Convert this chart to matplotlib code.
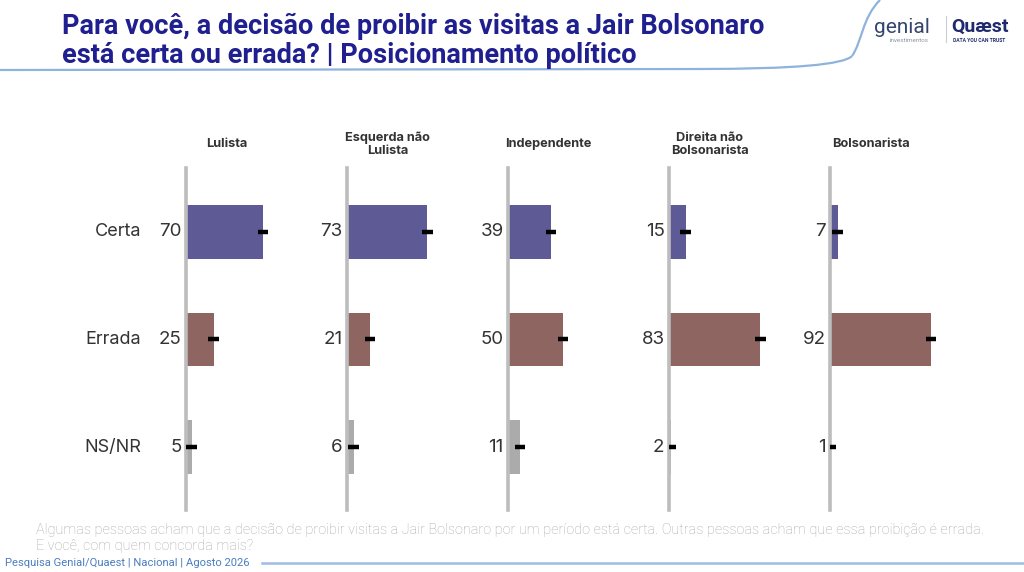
import matplotlib
matplotlib.use('Agg')
import matplotlib.pyplot as plt
from matplotlib.path import Path
from matplotlib.patches import PathPatch

# data
categories = ['Certa', 'Errada', 'NS/NR']
groups = ['Lulista', 'Esquerda não\nLulista', 'Independente', 'Direita não\nBolsonarista', 'Bolsonarista']
certa = [70, 73, 39, 15, 7]
errada = [25, 21, 50, 83, 92]
nsnr = [5, 6, 11, 2, 1]
margem = 4.8

title = 'Para você, a decisão de proibir as visitas a Jair Bolsonaro\nestá certa ou errada? | Posicionamento político'
note = ('Algumas pessoas acham que a decisão de proibir visitas a Jair Bolsonaro por um período está certa. '
        'Outras pessoas acham que essa proibição é errada.\nE você, com quem concorda mais?')
source = 'Pesquisa Genial/Quaest | Nacional | Agosto 2026'

colors = ['#5e5a96', '#8e6560', '#ababab']
W, H = 1024, 572

plt.rcParams['font.family'] = ['Inter', 'DejaVu Sans']
fig = plt.figure(figsize=(W / 100, H / 100), dpi=100)

# background layer in pixel coordinates
bg = fig.add_axes([0, 0, 1, 1], zorder=0)
bg.set_xlim(0, W)
bg.set_ylim(H, 0)
bg.axis('off')

# header line with its curve up to the top
bg.add_patch(PathPatch(Path([(0, 70), (700, 69), (840, 69), (852, 56)],
                            [Path.MOVETO, Path.LINETO, Path.CURVE3, Path.CURVE3]),
                       fill=False, edgecolor='#8fb3dd', lw=1.6))
bg.add_patch(PathPatch(Path([(852, 56), (862, 42), (862, 18), (880, 0)],
                            [Path.MOVETO, Path.CURVE4, Path.CURVE4, Path.CURVE4]),
                       fill=False, edgecolor='#8fb3dd', lw=1.6))

bg.text(62, 41, title, fontsize=19.5, weight='bold', color='#1f1f8f', family='Roboto',
        ha='left', va='center', linespacing=1.1)

# logo
bg.text(874, 33, 'genial', fontsize=15, color='#34466e', family='Roboto', ha='left', va='baseline')
bg.text(890, 42, 'investimentos', fontsize=4.5, color='#8a93a8', family='Roboto', ha='left', va='baseline')
bg.plot([946, 946], [16, 42], color='#c8ccd6', lw=0.8)
bg.text(951, 32, 'Quæst', fontsize=14, weight='bold', color='#1f2a6e', family='Roboto', ha='left', va='baseline')
bg.text(953, 42, 'DATA YOU CAN TRUST', fontsize=3.6, weight='bold', color='#1f2a6e', family='Roboto',
        ha='left', va='baseline')

# footer
bg.text(36, 538, note, fontsize=10.4, color='#a8a8a8', family='Roboto', weight='light',
        ha='left', va='center', linespacing=1.2)
bg.text(5, 563, source, fontsize=8.1, color='#4a7dbf', family='Roboto', ha='left', va='center')
bg.plot([262, W], [563, 563], color='#9dbde3', lw=1.8)

# panels
axis_left = [186, 347, 508, 669, 830]
y_top, y_bot = 168, 510
values = list(zip(certa, errada, nsnr))
ypos = [0, 1, 2]
for i, (g, vals) in enumerate(zip(groups, values)):
    ax = fig.add_axes([axis_left[i] / W, 1 - y_bot / H, 110 / W, (y_bot - y_top) / H], zorder=2)
    ax.patch.set_alpha(0)
    ax.barh(ypos, vals, height=0.5, color=colors, zorder=2)
    lo = [min(v, margem) for v in vals]
    ax.errorbar(vals, ypos, xerr=[lo, [margem] * 3], fmt='none', ecolor='black', elinewidth=3.2,
                capsize=0, zorder=3)
    ax.set_xlim(0, 100)
    ax.set_ylim(2 + (y_bot - 447) / 108, -(232 - y_top) / 108)
    for s in ['top', 'right', 'bottom']:
        ax.spines[s].set_visible(False)
    ax.spines['left'].set_color('#bdbdbd')
    ax.spines['left'].set_linewidth(2.6)
    ax.set_xticks([])
    ax.set_yticks([])
    for y, v in zip(ypos, vals):
        ax.text(-4, y, str(v), fontsize=13.5, color='#333333', ha='right', va='center')
    ax.text(37, -(232 - 144) / 108, g, fontsize=9.2, weight='bold', color='#333333',
            ha='center', va='center', linespacing=1.1, clip_on=False)
    if i == 0:
        for y, c in zip(ypos, categories):
            ax.text(-41, y, c, fontsize=13, color='#333333', ha='right', va='center')

fig.savefig('out.png', dpi=100)
